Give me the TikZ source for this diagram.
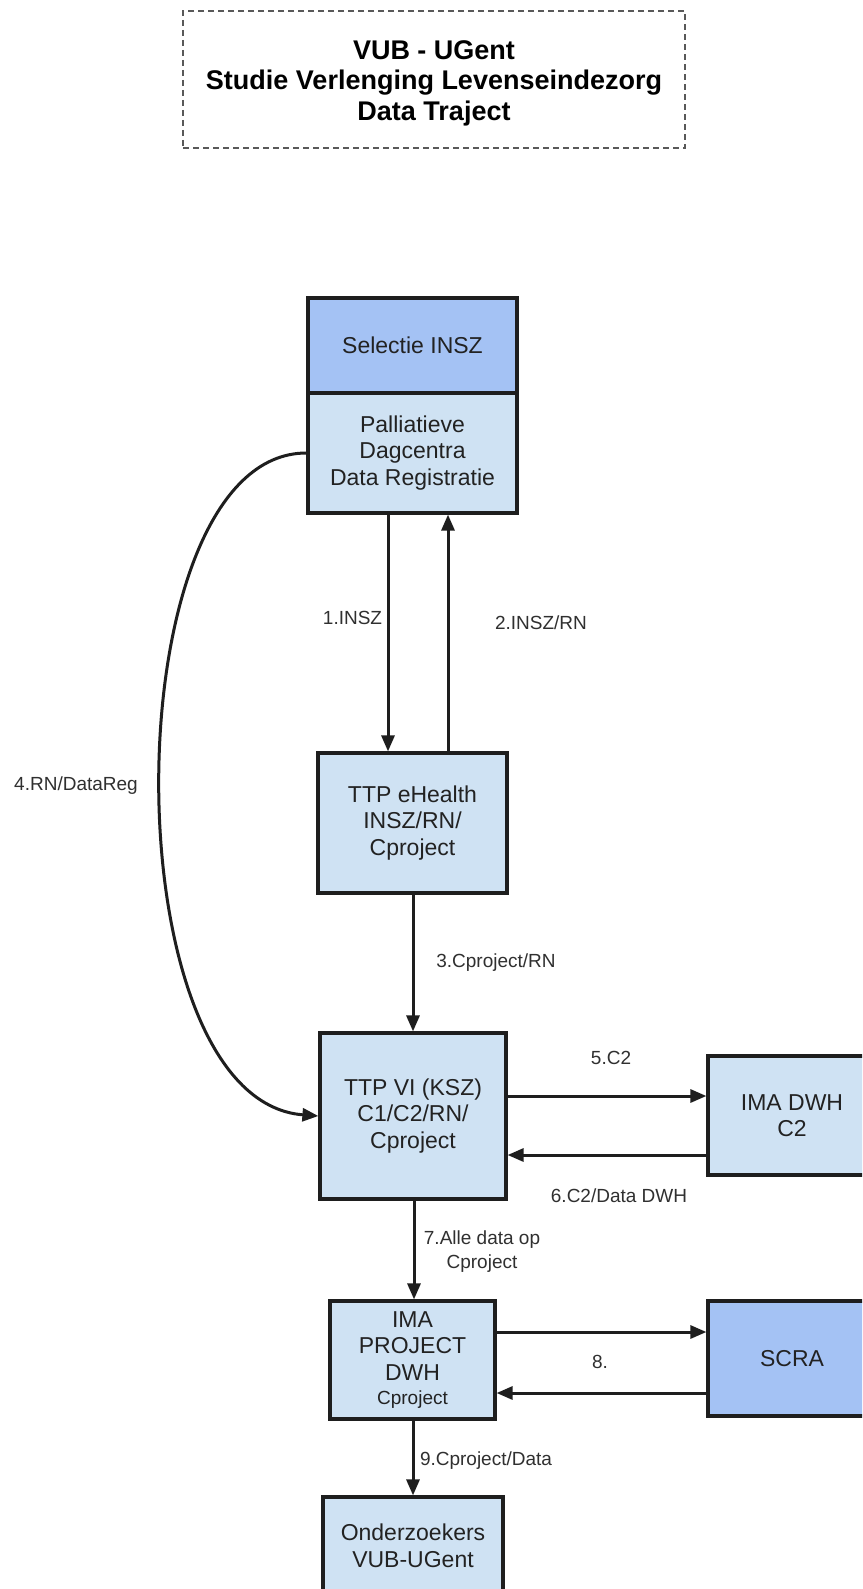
\documentclass[tikz,border=0pt]{standalone}
\usepackage{fontspec}
\setmainfont{Liberation Sans}
\usetikzlibrary{arrows.meta}
\definecolor{lightbox}{HTML}{CFE2F3}
\definecolor{midbox}{HTML}{A4C2F4}
\definecolor{boxline}{HTML}{1E1E1E}
\definecolor{txt}{HTML}{222222}
\definecolor{lbl}{HTML}{303030}
\tikzset{
  boxnode/.style={draw=boxline, line width=3.2pt, fill=lightbox, text=txt, align=center,
    inner sep=0pt, font=\fontsize{23}{26.5}\selectfont},
  darkbox/.style={boxnode, fill=midbox},
  arr/.style={line width=3pt, draw=boxline, -{Triangle[length=16pt,width=13pt]}},
  lab/.style={text=lbl, align=center, inner sep=0pt, font=\fontsize{19}{24}\selectfont},
  titlebox/.style={draw=black!65, dashed, dash pattern=on 6pt off 4pt, line width=1.5pt,
    inner sep=0pt}
}
\begin{document}
\begin{tikzpicture}[x=1pt,y=-1pt]
\useasboundingbox (0,0) rectangle (862,1589);
\clip (0,0) rectangle (862,1589);
\fill[white] (0,0) rectangle (862,1589);

% title
\node[titlebox, minimum width=502pt, minimum height=137pt] (title) at (434,79.5) {};
\node[align=center, inner sep=0pt, text=black, font=\fontsize{27}{30.5}\selectfont\bfseries] (titletext) at (434,83)
  {VUB - UGent\\Studie Verlenging Levenseindezorg\\Data Traject};

% nodes
\node[darkbox, minimum width=209pt, minimum height=95pt] (sel) at (412.5,345.5) {Selectie INSZ};
\node[boxnode, minimum width=209pt, minimum height=120pt] (pall) at (412.5,453)
  {Palliatieve\\Dagcentra\\Data Registratie};
\node[boxnode, minimum width=189pt, minimum height=140pt] (ehealth) at (412.5,823)
  {TTP eHealth\\INSZ/RN/\\Cproject};
\node[boxnode, minimum width=186pt, minimum height=166pt] (ttpvi) at (413,1116)
  {TTP VI (KSZ)\\C1/C2/RN/\\Cproject};
\node[boxnode, minimum width=168pt, minimum height=119pt] (imadwh) at (792,1115.5)
  {IMA DWH\\C2};
\node[boxnode, minimum width=165pt, minimum height=118pt] (imaproj) at (412.5,1360)
  {IMA\\PROJECT\\DWH\\[-2pt]{\fontsize{19}{22}\selectfont Cproject}};
\node[darkbox, minimum width=168pt, minimum height=115pt] (scra) at (792,1358.5) {SCRA};
\node[boxnode, minimum width=180pt, minimum height=98pt] (onderz) at (413,1546)
  {Onderzoekers\\VUB-UGent};

% helper coordinates
\coordinate (xa) at (388,0);
\coordinate (xb) at (448,0);
\coordinate (xc) at (413,0);
\coordinate (xd) at (414,0);
\coordinate (y5) at (0,1096);
\coordinate (y6) at (0,1155);
\coordinate (y8a) at (0,1332);
\coordinate (y8b) at (0,1393);

% connectors
\draw[arr] (pall.south -| xa) -- (ehealth.north -| xa);
\draw[arr] (ehealth.north -| xb) -- (pall.south -| xb);
\draw[arr] (ehealth.south -| xc) -- (ttpvi.north -| xc);
\draw[arr] (pall.west) .. controls (112,453) and (108,1100) .. (ttpvi.west);
\draw[arr] (ttpvi.east |- y5) -- (imadwh.west |- y5);
\draw[arr] (imadwh.west |- y6) -- (ttpvi.east |- y6);
\draw[arr] (ttpvi.south -| xd) -- (imaproj.north -| xd);
\draw[arr] (imaproj.east |- y8a) -- (scra.west |- y8a);
\draw[arr] (scra.west |- y8b) -- (imaproj.east |- y8b);
\draw[arr] (imaproj.south -| xc) -- (onderz.north -| xc);

% labels
\node[lab] (l1) at (352.5,618) {1.INSZ};
\node[lab] (l2) at (541,623) {2.INSZ/RN};
\node[lab] (l4) at (76,786) {4.RN/DataReg};
\node[lab] (l3) at (496,963) {3.Cproject/RN};
\node[lab] (l5) at (611,1058) {5.C2};
\node[lab] (l6) at (619,1196) {6.C2/Data DWH};
\node[lab] (l7) at (482,1252) {7.Alle data op\\Cproject};
\node[lab] (l8) at (600,1362) {8.};
\node[lab] (l9) at (486,1461) {9.Cproject/Data};
\end{tikzpicture}
\end{document}
